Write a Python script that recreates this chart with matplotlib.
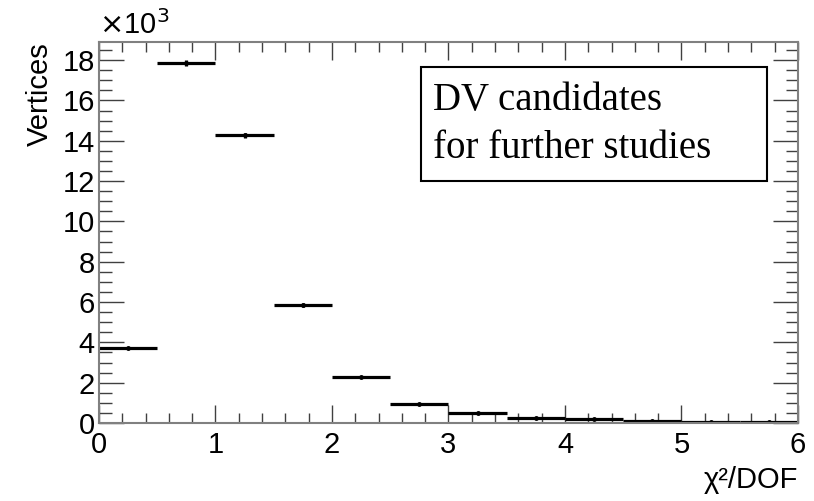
import matplotlib.pyplot as plt
from matplotlib.patches import Rectangle
from matplotlib.ticker import MultipleLocator

# chi2/DOF histogram, bin edges and counts (in units of 10^3)
bin_lo = [0.0, 0.5, 1.0, 1.5, 2.0, 2.5, 3.0, 3.5, 4.0, 4.5, 5.0, 5.5]
bin_hi = [0.5, 1.0, 1.5, 2.0, 2.5, 3.0, 3.5, 4.0, 4.5, 5.0, 5.5, 6.0]
counts = [3.72, 17.86, 14.28, 5.85, 2.28, 0.94, 0.48, 0.26, 0.18, 0.10, 0.06, 0.04]
errors = [0.06, 0.13, 0.12, 0.08, 0.05, 0.03, 0.02, 0.016, 0.013, 0.01, 0.008, 0.006]

plt.rcParams['font.family'] = ['Liberation Sans', 'DejaVu Sans']

fig = plt.figure(figsize=(8.14, 5.01), dpi=100)
ax = fig.add_axes([0.1216, 0.1557, 0.8587, 0.7605])

centers = [(a + b) / 2 for a, b in zip(bin_lo, bin_hi)]
halfw = [(b - a) / 2 for a, b in zip(bin_lo, bin_hi)]
ax.errorbar(centers, counts, xerr=halfw, yerr=errors, fmt='o', color='black',
            markersize=2.5, elinewidth=2.3, capsize=0)

ax.set_xlim(0, 6)
ax.set_ylim(0, 18.9)

ax.xaxis.set_major_locator(MultipleLocator(1))
ax.xaxis.set_minor_locator(MultipleLocator(0.2))
ax.yaxis.set_major_locator(MultipleLocator(2))
ax.yaxis.set_minor_locator(MultipleLocator(0.5))

for s in ax.spines.values():
    s.set_color('#808080')
    s.set_linewidth(1.5)

ax.tick_params(axis='both', which='both', direction='in', top=True, right=True,
               color='#404040', labelsize=21, width=1.0)
ax.tick_params(axis='x', which='major', length=13, pad=6)
ax.tick_params(axis='x', which='minor', length=7)
ax.tick_params(axis='y', which='major', length=18, pad=3)
ax.tick_params(axis='y', which='minor', length=9)

ax.set_ylabel('Vertices', fontsize=21, loc='top', labelpad=6)
ax.set_xlabel('χ²/DOF', fontsize=21, loc='right', labelpad=5)

ax.text(0.0, 1.005, r'$\times$10$^3$', transform=ax.transAxes, fontsize=21,
        ha='left', va='bottom')

# annotation box
ax.add_patch(Rectangle((0.46, 0.635), 0.495, 0.30, transform=ax.transAxes,
                       fill=False, edgecolor='black', linewidth=1.5))
ax.text(0.4775, 0.783, 'DV candidates\nfor further studies', transform=ax.transAxes,
        fontsize=28, family='Liberation Serif', ha='left', va='center',
        linespacing=1.4)

fig.savefig('out.png', dpi=100)
